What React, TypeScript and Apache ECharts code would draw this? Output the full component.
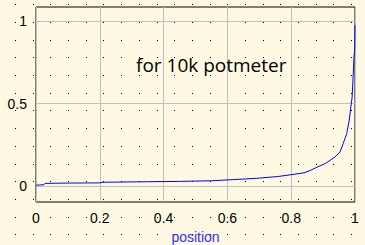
import React, { useEffect, useRef } from "react";
import * as echarts from "echarts";

const positions = [0, 0.025, 0.028, 0.1, 0.2, 0.21, 0.35, 0.45, 0.55, 0.62, 0.7, 0.76, 0.8, 0.84, 0.86, 0.875, 0.89, 0.906, 0.922, 0.937, 0.953, 0.963, 0.974, 0.982, 0.987, 0.991, 0.994, 0.997, 0.999, 1.0];
const ratios = [0.005, 0.008, 0.016, 0.018, 0.019, 0.023, 0.026, 0.028, 0.032, 0.039, 0.048, 0.058, 0.069, 0.08, 0.095, 0.109, 0.122, 0.136, 0.156, 0.176, 0.207, 0.258, 0.318, 0.4, 0.48, 0.54, 0.66, 0.79, 0.82, 0.976];
const yTicks = [0, 0.5, 1];
const title = "for 10k potmeter";
const xName = "position";
const yName = "ratio";

export default function App() {
  const ref = useRef<HTMLDivElement>(null);
  useEffect(() => {
    if (!ref.current) return;
    const chart = echarts.init(ref.current, null, { renderer: "svg" });
    const dots: any[] = [];
    for (let i = 0; i < 21; i++) {
      for (let j = 0; j < 14; j++) {
        dots.push({
          type: "rect",
          shape: { x: Math.round(15 + 17.69 * i), y: Math.round(4.3 + 17.69 * j), width: 1, height: 1 },
          style: { fill: "#000" },
          silent: true,
          z: 0,
        });
      }
    }
    chart.setOption({
      animation: false,
      backgroundColor: "#fff9e3",
      grid: { left: 36, right: 10, top: 7, bottom: 43, containLabel: false, outerBoundsMode: "none", show: true, borderColor: "#000", borderWidth: 1, backgroundColor: "transparent" },
      xAxis: {
        type: "value",
        min: 0,
        max: 1,
        interval: 0.2,
        name: xName,
        nameLocation: "middle",
        nameGap: 24,
        nameTextStyle: { color: "#3030ff", fontSize: 14, fontFamily: "Liberation Sans" },
        axisLine: { show: false },
        axisTick: { show: false },
        axisLabel: { color: "#000", fontSize: 14, fontFamily: "Liberation Sans", margin: 9 },
        splitLine: { show: true, lineStyle: { color: "#c0c0c0", width: 1 } },
      },
      yAxis: {
        type: "value",
        min: -0.097,
        max: 1.087,
        name: yName,
        nameLocation: "middle",
        nameGap: 38,
        nameTextStyle: { color: "#a8f0e0", fontSize: 14, fontFamily: "Liberation Sans" },
        axisLine: { show: false },
        axisTick: { show: false, customValues: yTicks },
        axisLabel: { color: "#000", fontSize: 14, fontFamily: "Liberation Sans", margin: 9, customValues: yTicks },
        splitLine: { show: true, lineStyle: { color: "#c0c0c0", width: 1 } },
      },
      graphic: [
        ...dots,
        {
          type: "text",
          left: 136,
          top: 55,
          style: { text: title, fill: "#000", fontSize: 19, fontFamily: "Open Sans" },
          z: 10,
        },
      ],
      series: [
        {
          type: "line",
          data: positions.map((p, i) => [p, ratios[i]]),
          showSymbol: false,
          lineStyle: { color: "#0000ff", width: 1 },
          z: 5,
        },
      ],
    });
    return () => chart.dispose();
  }, []);
  return <div ref={ref} style={{ width: 365, height: 245, position: "absolute", left: 0, top: 0 }} />;
}
